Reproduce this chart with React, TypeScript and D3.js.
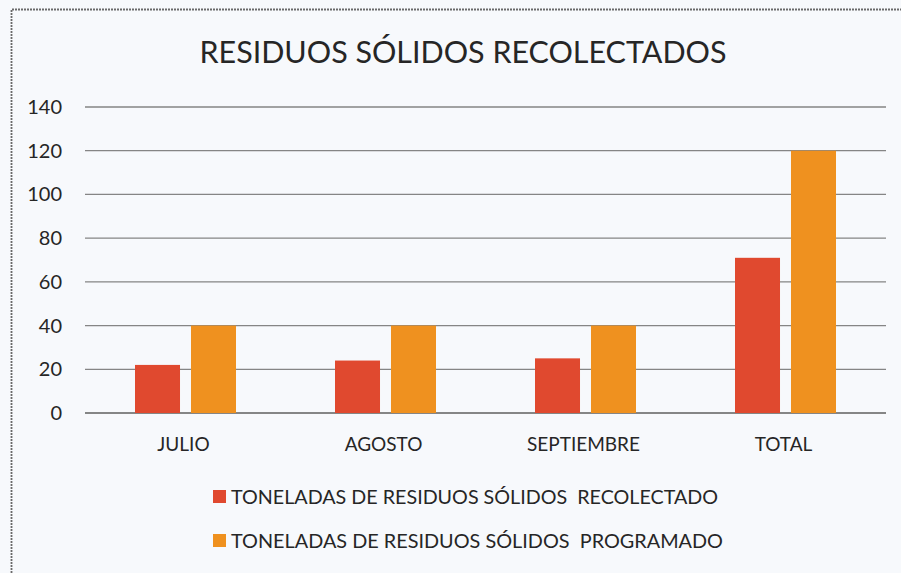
import React from "react";
import * as d3 from "d3";

const categories = ["JULIO", "AGOSTO", "SEPTIEMBRE", "TOTAL"];
const recolectado = [22, 24, 25, 71];
const programado = [40, 40, 40, 120];
const yTicks = [0, 20, 40, 60, 80, 100, 120, 140];
const seriesNames = [
  "TONELADAS DE RESIDUOS SÓLIDOS  RECOLECTADO",
  "TONELADAS DE RESIDUOS SÓLIDOS  PROGRAMADO",
];
const title = "RESIDUOS SÓLIDOS RECOLECTADOS";

const W = 901;
const H = 573;
const colors = ["#e0492f", "#ef911f"];
const font = "Lato, 'Open Sans', sans-serif";

export default function App() {
  const x = d3.scaleBand<string>().domain(categories).range([85.5, 885.5]).paddingInner(0).paddingOuter(0);
  const y = d3.scaleLinear().domain([0, 140]).range([413, 107]);
  const sub = d3.scaleBand<number>().domain([0, 1]).range([0, 101]).paddingInner(0.196);
  const groupOffset = (x.bandwidth() - 101) / 2;
  const series = [recolectado, programado];

  return (
    <svg width={W} height={H} style={{ position: "absolute", left: 0, top: 0 }} xmlns="http://www.w3.org/2000/svg">
      <rect x={0} y={0} width={W} height={H} fill="#f7f9fc" />
      <path d={`M11.5,${H} V9.5 H${W}`} fill="none" stroke="#6a6a6a" strokeWidth={1.8} strokeDasharray="2,1" />
      <text x={463} y={63} textAnchor="middle" fontFamily={font} fontSize={31} fill="#262626" textLength={527} lengthAdjust="spacingAndGlyphs">
        {title}
      </text>
      {yTicks.map((t) => (
        <g key={t}>
          <line x1={85} x2={886} y1={y(t)} y2={y(t)} stroke={t === 0 ? "#5f5f5f" : "#858585"} strokeWidth={t === 0 ? 1.6 : 1.3} />
          <text x={62} y={y(t) + 7} textAnchor="end" fontFamily={font} fontSize={20} fill="#262626">
            {t}
          </text>
        </g>
      ))}
      {categories.map((c, i) => (
        <g key={c}>
          {series.map((s, k) => (
            <rect
              key={k}
              x={(x(c) as number) + groupOffset + (sub(k) as number)}
              y={y(s[i])}
              width={sub.bandwidth()}
              height={y(0) - y(s[i])}
              fill={colors[k]}
            />
          ))}
          <text x={(x(c) as number) + x.bandwidth() / 2 - 2} y={451} textAnchor="middle" fontFamily={font} fontSize={19} fill="#262626">
            {c}
          </text>
        </g>
      ))}
      {seriesNames.map((n, k) => (
        <g key={n}>
          <rect x={213} y={490 + k * 44} width={13} height={13} fill={colors[k]} />
          <text x={231} y={504 + k * 44} fontFamily={font} fontSize={19} fill="#262626" style={{ whiteSpace: "pre" }} textLength={k === 0 ? 487 : 492} lengthAdjust="spacingAndGlyphs">
            {n}
          </text>
        </g>
      ))}
    </svg>
  );
}
